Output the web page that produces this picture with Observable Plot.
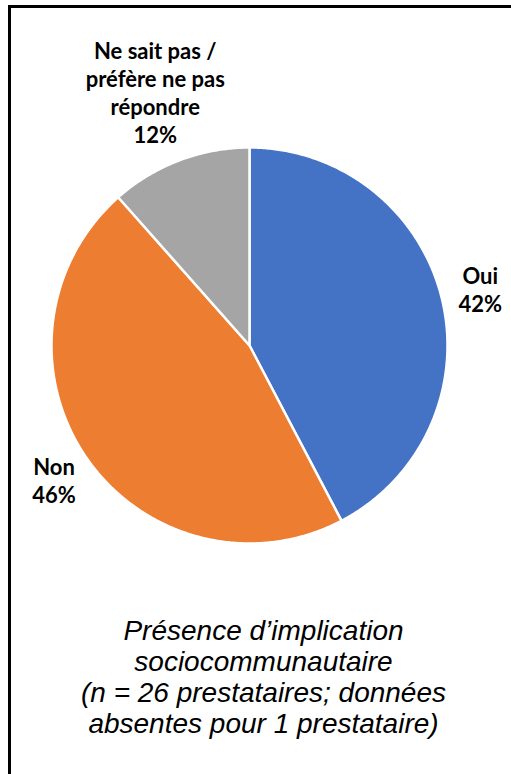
<!DOCTYPE html>
<html>
<head>
<meta charset="utf-8">
<script src="https://cdn.jsdelivr.net/npm/d3@7"></script>
<script src="https://cdn.jsdelivr.net/npm/@observablehq/plot@0.6"></script>
<style>
  html, body { margin: 0; padding: 0; background: white; overflow: hidden; }
  #wrap { position: relative; width: 511px; height: 774px; overflow: hidden; }
  #chart { position: absolute; left: 0; top: 0; }
  #border { position: absolute; left: 8px; top: 5px; width: 600px; height: 900px; border: 3px solid #000; z-index: 2; }
  #caption { position: absolute; left: 0; width: 527px; top: 615px; text-align: center;
    font: italic 28px "Liberation Sans", Arial, sans-serif; line-height: 31px; color: #000; }
</style>
</head>
<body>
<div id="wrap">
  <div id="chart"></div>
  <div id="caption">Présence d’implication<br>sociocommunautaire<br>(<i>n</i> = 26 prestataires; données<br>absentes pour 1 prestataire)</div>
  <div id="border"></div>
</div>
<script>
// ---- data ----
const categories = ["Oui", "Non", "Ne sait pas / préfère ne pas répondre"];
const categoryLines = ["Oui", "Non", "Ne sait pas /\npréfère ne pas\nrépondre"];
const counts = [11, 12, 3];
const percentLabels = ["42%", "46%", "12%"];
const colors = ["#4472C4", "#ED7D31", "#A5A5A5"];

// ---- geometry from data ----
const arcs = d3.pie().sort(null).startAngle(0).endAngle(2 * Math.PI)(counts);
const pt = (a, r) => [r * Math.sin(a), -r * Math.cos(a)];

const wedges = arcs.map((a, i) => {
  const n = Math.max(2, Math.ceil((a.endAngle - a.startAngle) / (Math.PI / 360)));
  const ring = [[0, 0]];
  for (let k = 0; k <= n; ++k) ring.push(pt(a.startAngle + (a.endAngle - a.startAngle) * k / n, 1));
  ring.push([0, 0]);
  return {type: "Feature", properties: {category: categories[i]}, geometry: {type: "Polygon", coordinates: [ring]}};
});

const labelRadius = 1.2;
const labels = arcs.map((a, i) => {
  const [x, y] = pt((a.startAngle + a.endAngle) / 2, labelRadius);
  return {category: categories[i], x, y, text: categoryLines[i] + "\n" + percentLabels[i]};
});

const labelStyle = {x: "x", y: "y", text: "text", lineAnchor: "middle", textAnchor: "middle",
  fontFamily: "Lato, 'Open Sans', sans-serif", fontWeight: "bold", fontSize: 22, lineHeight: 1.27, fill: "#000"};

const chart = Plot.plot({
  width: 511,
  height: 774,
  marginLeft: 51,
  marginRight: 64,
  marginTop: 147,
  marginBottom: 231,
  style: {background: "transparent", overflow: "visible"},
  projection: {type: "identity", clip: null, domain: {type: "MultiPoint", coordinates: [[-1, -1], [1, 1]]}},
  color: {domain: categories, range: colors},
  marks: [
    Plot.geo(wedges, {fill: d => d.properties.category, stroke: "white", strokeWidth: 2.5, strokeLinejoin: "round"}),
    Plot.text(labels.filter(d => d.category !== categories[2]), labelStyle),
    Plot.text(labels.filter(d => d.category === categories[2]), {...labelStyle, dx: -10, dy: -31})
  ]
});
document.getElementById("chart").appendChild(chart);
</script>
</body>
</html>
